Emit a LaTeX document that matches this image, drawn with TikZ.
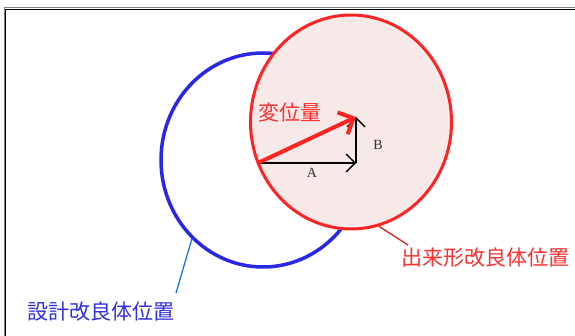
\documentclass[tikz,border=0pt]{standalone}
\usepackage{fontspec}
\newfontfamily\jpfont{Noto Sans CJK JP}
\setmainfont{Liberation Serif}
\usetikzlibrary{shapes.geometric,arrows.meta}
\definecolor{ringred}{HTML}{FF2424}
\definecolor{ringfill}{HTML}{F8E9E9}
\definecolor{ringblue}{HTML}{2828E6}
\definecolor{leadblue}{HTML}{0A6EF0}
\definecolor{leadred}{HTML}{E01010}
\definecolor{txtred}{HTML}{FF3030}
\definecolor{txtblue}{HTML}{3030DD}
\tikzset{
  ring/.style={ellipse, inner sep=0pt, draw},
  jplabel/.style={font=\jpfont\fontsize{21}{21}\selectfont, inner sep=0pt},
  vecline/.style={line width=1.3pt, -{Straight Barb[length=9pt, width=18pt, line width=1.3pt]}},
  letter/.style={font=\fontsize{14}{14}\selectfont, text=black!80, inner sep=0pt},
}
\begin{document}
\begin{tikzpicture}[x=1pt, y=-1pt]
\useasboundingbox (0,0) rectangle (575,336);
\fill[white] (0,0) rectangle (575,336);
% frame
\draw[gray, line width=1pt] (4.5,336) -- (4.5,8) -- (575,8);
\draw[black, line width=1.2pt] (5.6,336) -- (5.6,9.2) -- (575,9.2);
% ellipses
\node[ring, draw=ringblue, line width=3.5pt, minimum width=204pt, minimum height=214pt] (blue) at (263,160) {};
\node[ring, draw=ringred, fill=ringfill, line width=3pt, minimum width=201pt, minimum height=214pt] (red) at (351,122) {};
% vectors
\coordinate (o) at (258,163);
\coordinate (pa) at (356,163);
\coordinate (pb) at (356,117);
\draw[vecline] (o) -- (pa);
\draw[vecline] (pa) -- (pb);
\draw[line width=4pt, ringred, -{Straight Barb[length=12pt, width=24pt, line width=4pt]}] (o) -- (pb);
% labels
\node[letter] (la) at (312,173) {A};
\node[letter] (lb) at (378,145) {B};
\node[jplabel, text=txtred] (disp) at (290,113) {変位量};
\node[jplabel, text=txtred] (redlbl) at (485,258) {出来形改良体位置};
\node[jplabel, text=txtblue] (bluelbl) at (101,312) {設計改良体位置};
% leaders
\coordinate (bend) at (176,293);
\coordinate (rend) at (408,245);
\draw[leadblue, line width=1.2pt] (blue.228) -- (bend);
\draw[leadred, line width=1.2pt] (red.285) -- (rend);
\end{tikzpicture}
\end{document}
